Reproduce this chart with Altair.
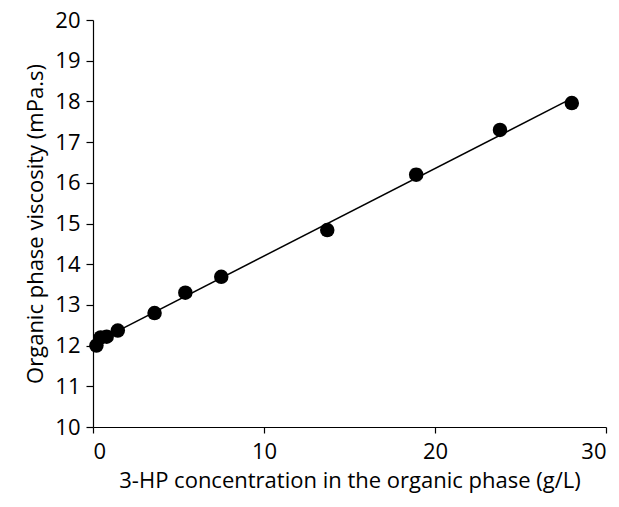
import altair as alt
import pandas as pd

conc = [0.2, 0.45, 0.8, 1.45, 3.6, 5.4, 7.5, 13.7, 18.9, 23.8, 28.0]
visc = [12.0, 12.2, 12.22, 12.37, 12.8, 13.3, 13.69, 14.84, 16.2, 17.3, 17.96]
err = [0.12, 0.05, 0.05, 0.05, 0.05, 0.05, 0.05, 0.05, 0.15, 0.06, 0.12]

df = pd.DataFrame({"x": conc, "y": visc, "e": err})
df["lo"] = df["y"] - df["e"]
df["hi"] = df["y"] + df["e"]

FONT = "Open Sans"
FS = 22

xs = alt.Scale(domain=[0, 30], nice=False, zero=False)
ys = alt.Scale(domain=[10, 20], nice=False, zero=False)

xaxis = alt.Axis(values=[0, 10, 20, 30], title="3-HP concentration in the organic phase (g/L)",
                 grid=False, domainColor="black", tickColor="black", labelColor="black",
                 titleColor="black", labelFontSize=FS, titleFontSize=FS, labelFont=FONT,
                 titleFont=FONT, titleFontWeight="normal", tickSize=6, labelPadding=8,
                 titlePadding=8, domainWidth=1.2, tickWidth=1.2)
yaxis = alt.Axis(values=list(range(10, 21)), title="Organic phase viscosity (mPa.s)",
                 grid=False, domainColor="black", tickColor="black", labelColor="black",
                 titleColor="black", labelFontSize=FS, titleFontSize=FS, labelFont=FONT,
                 titleFont=FONT, titleFontWeight="normal", tickSize=7, labelPadding=6,
                 titlePadding=7, domainWidth=1.2, tickWidth=1.2)

base = alt.Chart(df)

line = base.transform_regression("x", "y").mark_line(color="black", strokeWidth=1.5).encode(
    x=alt.X("x:Q", scale=xs, axis=xaxis),
    y=alt.Y("y:Q", scale=ys, axis=yaxis),
)

rule = base.mark_rule(color="#808080", strokeWidth=1).encode(
    x=alt.X("x:Q", scale=xs), y=alt.Y("lo:Q", scale=ys), y2="hi:Q")
cap_lo = base.mark_tick(color="#808080", size=9, thickness=1.2, orient="horizontal").encode(
    x=alt.X("x:Q", scale=xs), y=alt.Y("lo:Q", scale=ys))
cap_hi = base.mark_tick(color="#808080", size=9, thickness=1.2, orient="horizontal").encode(
    x=alt.X("x:Q", scale=xs), y=alt.Y("hi:Q", scale=ys))

pts = base.mark_circle(color="black", opacity=1, size=210).encode(
    x=alt.X("x:Q", scale=xs), y=alt.Y("y:Q", scale=ys))

chart = alt.layer(line, rule, cap_lo, cap_hi, pts).properties(
    width=513, height=407, background="white",
    autosize=alt.AutoSizeParams(type="none"),
    padding={"left": 85, "top": 12, "right": 5, "bottom": 72},
).configure_view(stroke=None)

chart.save("out.html", embed_options={"renderer": "svg", "actions": False})
